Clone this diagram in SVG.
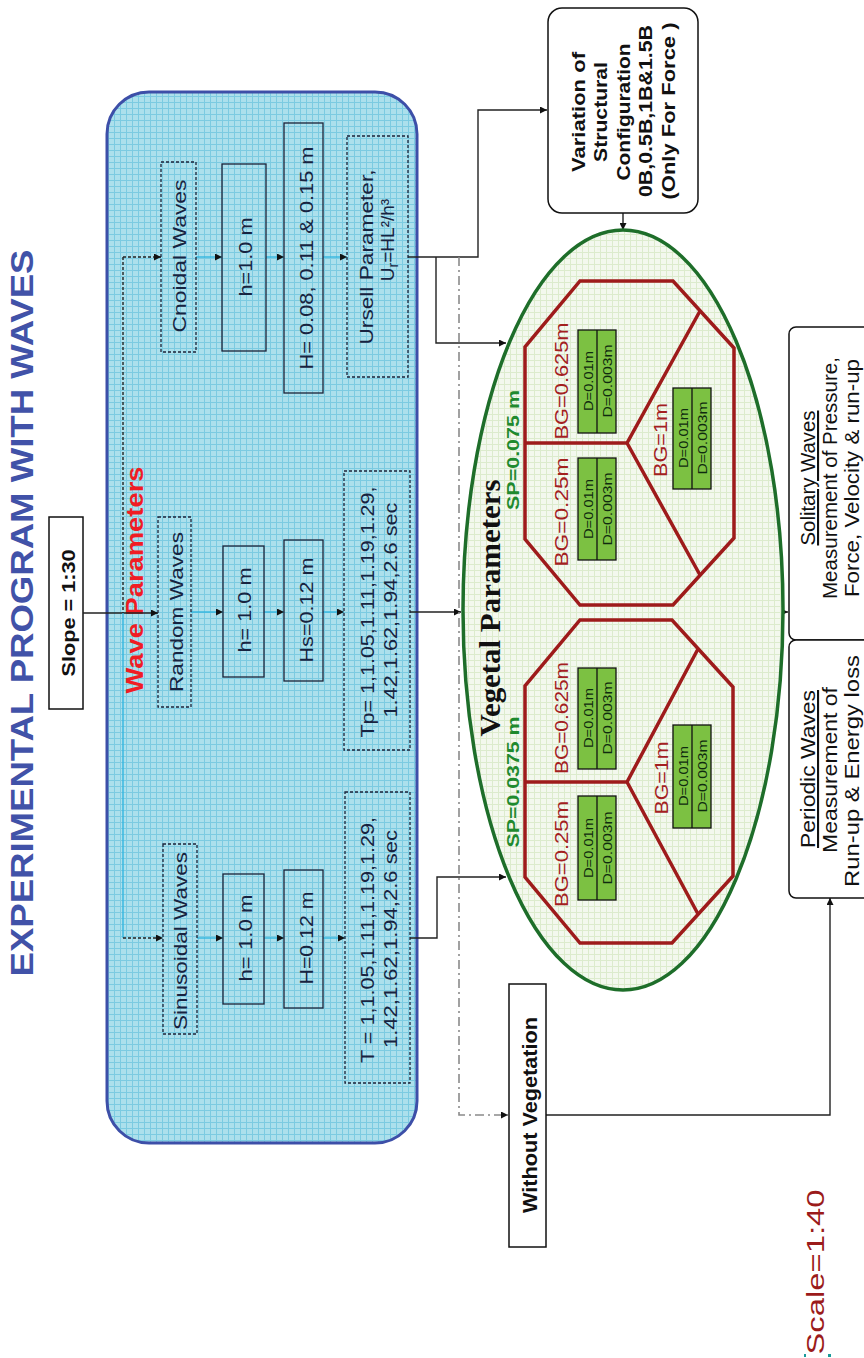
<svg xmlns="http://www.w3.org/2000/svg" width="864" height="1358" viewBox="0 0 864 1358">
  <defs>
    <pattern id="gridBlue" width="6" height="6" patternUnits="userSpaceOnUse">
      <rect width="6" height="6" fill="#ace0ec"/>
      <path d="M0 0.5H6M0.5 0V6" stroke="#7ccbe1" stroke-width="1"/>
    </pattern>
    <pattern id="gridGreen" width="6" height="6" patternUnits="userSpaceOnUse">
      <rect width="6" height="6" fill="#f3f8ee"/>
      <path d="M0 0.5H6M0.5 0V6" stroke="#dcebcd" stroke-width="1"/>
    </pattern>
    <marker id="arr" viewBox="0 0 10 10" refX="10" refY="5" markerWidth="8" markerHeight="7" markerUnits="userSpaceOnUse" orient="auto">
      <path d="M0,0 L10,5 L0,10 z" fill="#111"/>
    </marker>
  </defs>
  <style>
    text { font-family: "Liberation Sans", Arial, sans-serif; text-anchor: middle; }
    .serif { font-family: "Liberation Serif", "Times New Roman", serif; }
    .box { fill: none; stroke: #1b2238; stroke-width: 1.3; }
    .dash { stroke-dasharray: 3 2; }
    .bt { font-size: 19px; fill: #172340; }
    .bold { font-weight: bold; fill: #111; }
    .wire { fill: none; stroke: #222; stroke-width: 1.4; }
    .cyan { fill: none; stroke: #33b6e0; stroke-width: 1.4; }
    .oct { fill: none; stroke: #9e1b1b; stroke-width: 3.5; stroke-linejoin: miter; }
    .bg { font-size: 19px; fill: #a3201f; }
    .sp { font-size: 17px; font-weight: bold; fill: #1f8a2e; }
    .dbox { fill: #7cc142; stroke: #111; stroke-width: 1.3; }
    .dt { font-size: 13px; fill: #0f2a0f; }
    .out { fill: #fff; stroke: #111; stroke-width: 1.5; }
    .ot { font-size: 21px; fill: #111; }
  </style>

  <!-- title -->
  <text id="title" transform="translate(33,613) rotate(-90)" font-size="32" font-weight="bold" fill="#4152a8" textLength="727" lengthAdjust="spacingAndGlyphs">EXPERIMENTAL PROGRAM WITH WAVES</text>

  <!-- slope -->
  <g id="slope">
    <rect x="49" y="517" width="34" height="192" fill="#fff" stroke="#111" stroke-width="1.5"/>
    <text class="bold" transform="translate(75,613) rotate(-90)" font-size="18" textLength="127" lengthAdjust="spacingAndGlyphs">Slope = 1:30</text>
  </g>

  <!-- wave parameters panel -->
  <g id="wave-parameters">
    <rect x="107" y="92" width="310" height="1051" rx="42" fill="url(#gridBlue)" stroke="#3d4fa8" stroke-width="3"/>
    <text transform="translate(143,580) rotate(-90)" font-size="24" font-weight="bold" fill="#f01c24" textLength="227" lengthAdjust="spacingAndGlyphs">Wave Parameters</text>
  </g>

  <!-- connectors -->
  <g id="connectors">
    <line class="wire" x1="83" y1="613" x2="158" y2="613" marker-end="url(#arr)"/>
    <line class="wire dash" x1="123" y1="257" x2="123" y2="613"/>
    <line class="cyan" x1="123" y1="613" x2="123" y2="938"/>
    <line class="wire dash" x1="123" y1="257" x2="161" y2="257" marker-end="url(#arr)"/>
    <line class="wire dash" x1="123" y1="938" x2="163" y2="938" marker-end="url(#arr)"/>

    <line class="cyan" x1="196" y1="257" x2="222" y2="257" marker-end="url(#arr)"/>
    <line class="cyan" x1="266" y1="257" x2="284" y2="257" marker-end="url(#arr)"/>
    <line class="cyan" x1="323" y1="257" x2="347" y2="257" marker-end="url(#arr)"/>
    <line class="cyan" x1="191" y1="612" x2="223" y2="612" marker-end="url(#arr)"/>
    <line class="cyan" x1="264" y1="612" x2="284" y2="612" marker-end="url(#arr)"/>
    <line class="cyan" x1="323" y1="612" x2="344" y2="612" marker-end="url(#arr)"/>
    <line class="cyan" x1="197" y1="938" x2="223" y2="938" marker-end="url(#arr)"/>
    <line class="cyan" x1="264" y1="938" x2="284" y2="938" marker-end="url(#arr)"/>
    <line class="cyan" x1="323" y1="938" x2="345" y2="938" marker-end="url(#arr)"/>

    <polyline class="wire" points="408,257 478,257 478,110 547,110" marker-end="url(#arr)"/>
    <polyline class="wire" points="436,257 436,343 506,343" marker-end="url(#arr)"/>
    <line class="wire" x1="410" y1="612" x2="461" y2="612" stroke="#555" marker-end="url(#arr)"/>
    <polyline class="wire" points="410,938 437,938 437,877 506,877" marker-end="url(#arr)"/>
    <polyline points="459,257 459,1115 508,1115" fill="none" stroke="#8a8a8a" stroke-width="1.6" stroke-dasharray="9 4 2 4" marker-end="url(#arr)"/>
    <line class="wire" x1="623" y1="213" x2="623" y2="230" marker-end="url(#arr)"/>
    <polyline class="wire" points="546,1115 830,1115 830,898" stroke="#555" marker-end="url(#arr)"/>
    <line class="wire" x1="777" y1="612" x2="788" y2="612" marker-end="url(#arr)"/>
  </g>

  <!-- cnoidal column -->
  <g id="cnoidal">
    <rect class="box dash" x="161" y="162" width="35" height="190"/>
    <text class="bt" transform="translate(186,256) rotate(-90)" textLength="153" lengthAdjust="spacingAndGlyphs">Cnoidal Waves</text>
    <rect class="box" x="222" y="164" width="44" height="187"/>
    <text class="bt" transform="translate(252,257) rotate(-90)" textLength="79" lengthAdjust="spacingAndGlyphs">h=1.0 m</text>
    <rect class="box" x="284" y="123" width="39" height="270"/>
    <text class="bt" transform="translate(313,258) rotate(-90)" textLength="223" lengthAdjust="spacingAndGlyphs">H= 0.08, 0.11 &amp; 0.15 m</text>
    <rect class="box dash" x="347" y="136" width="61" height="241"/>
    <text class="bt" transform="translate(373,257) rotate(-90)" textLength="175" lengthAdjust="spacingAndGlyphs">Ursell Parameter,</text>
    <text class="bt" transform="translate(394,240) rotate(-90)" font-size="21">U<tspan font-size="14" dy="4">r</tspan><tspan dy="-4">=HL²/h³</tspan></text>
  </g>

  <!-- random column -->
  <g id="random">
    <rect class="box dash" x="158" y="517" width="33" height="190"/>
    <text class="bt" transform="translate(183,612) rotate(-90)" textLength="160" lengthAdjust="spacingAndGlyphs">Random Waves</text>
    <rect class="box" x="223" y="546" width="41" height="131"/>
    <text class="bt" transform="translate(251,610) rotate(-90)" textLength="85" lengthAdjust="spacingAndGlyphs">h= 1.0 m</text>
    <rect class="box" x="284" y="540" width="39" height="141"/>
    <text class="bt" transform="translate(313,610) rotate(-90)" textLength="105" lengthAdjust="spacingAndGlyphs">Hs=0.12 m</text>
    <rect class="box dash" x="344" y="471" width="66" height="279"/>
    <text class="bt" transform="translate(374,612) rotate(-90)" textLength="251" lengthAdjust="spacingAndGlyphs">Tp= 1,1.05,1.11,1.19,1.29,</text>
    <text class="bt" transform="translate(397,610) rotate(-90)" textLength="215" lengthAdjust="spacingAndGlyphs">1.42,1.62,1.94,2.6 sec</text>
  </g>

  <!-- sinusoidal column -->
  <g id="sinusoidal">
    <rect class="box dash" x="163" y="844" width="34" height="190"/>
    <text class="bt" transform="translate(187,941) rotate(-90)" textLength="178" lengthAdjust="spacingAndGlyphs">Sinusoidal Waves</text>
    <rect class="box" x="223" y="874" width="41" height="130"/>
    <text class="bt" transform="translate(252,938) rotate(-90)" textLength="87" lengthAdjust="spacingAndGlyphs">h= 1.0 m</text>
    <rect class="box" x="284" y="870" width="39" height="138"/>
    <text class="bt" transform="translate(313,938) rotate(-90)" textLength="93" lengthAdjust="spacingAndGlyphs">H=0.12 m</text>
    <rect class="box dash" x="345" y="792" width="65" height="291"/>
    <text class="bt" transform="translate(374,940) rotate(-90)" textLength="246" lengthAdjust="spacingAndGlyphs">T = 1,1.05,1.11,1.19,1.29,</text>
    <text class="bt" transform="translate(397,939) rotate(-90)" textLength="218" lengthAdjust="spacingAndGlyphs">1.42,1.62,1.94,2.6 sec</text>
  </g>

  <!-- structural configuration -->
  <g id="variation">
    <rect x="548" y="8" width="150" height="205" rx="14" fill="#fff" stroke="#111" stroke-width="1.5"/>
    <g class="bold" font-size="19">
      <text transform="translate(585,112) rotate(-90)" textLength="120" lengthAdjust="spacingAndGlyphs">Variation of</text>
      <text transform="translate(607,112) rotate(-90)" textLength="100" lengthAdjust="spacingAndGlyphs">Structural</text>
      <text transform="translate(630,112) rotate(-90)" textLength="137" lengthAdjust="spacingAndGlyphs">Configuration</text>
      <text transform="translate(652,111) rotate(-90)" textLength="172" lengthAdjust="spacingAndGlyphs">0B,0.5B,1B&amp;1.5B</text>
      <text transform="translate(675,111) rotate(-90)" textLength="177" lengthAdjust="spacingAndGlyphs">(Only For Force )</text>
    </g>
  </g>

  <!-- vegetal parameters -->
  <g id="vegetal-parameters">
    <ellipse cx="623" cy="610" rx="160" ry="380" fill="url(#gridGreen)" stroke="#1e6e2a" stroke-width="3.5"/>
    <text class="serif" transform="translate(500,608) rotate(-90)" font-size="29" font-weight="bold" fill="#111" textLength="257" lengthAdjust="spacingAndGlyphs">Vegetal Parameters</text>
    <text class="sp" transform="translate(519,782) rotate(-90)" textLength="131" lengthAdjust="spacingAndGlyphs">SP=0.0375 m</text>
    <text class="sp" transform="translate(519,450) rotate(-90)" textLength="120" lengthAdjust="spacingAndGlyphs">SP=0.075 m</text>
  </g>

  <!-- SP = 0.075 m layout -->
  <g id="layout-sp0075">
    <path class="oct" d="M580,281 L673,281 L734,348 L734,538 L673,605 L580,605 L525,539 L525,347 Z"/>
    <path class="oct" d="M525,443 L627,443 L700,311 M627,443 L700,575"/>
    <text class="bg" transform="translate(568,381) rotate(-90)" textLength="117" lengthAdjust="spacingAndGlyphs">BG=0.625m</text>
    <text class="bg" transform="translate(568,512) rotate(-90)" textLength="109" lengthAdjust="spacingAndGlyphs">BG=0.25m</text>
    <text class="bg" transform="translate(667,440) rotate(-90)" textLength="74" lengthAdjust="spacingAndGlyphs">BG=1m</text>
    <rect class="dbox" x="578" y="330" width="38" height="103"/>
    <line x1="597" y1="330" x2="597" y2="433" stroke="#111" stroke-width="1.3"/>
    <text class="dt" transform="translate(593,381) rotate(-90)" textLength="60" lengthAdjust="spacingAndGlyphs">D=0.01m</text>
    <text class="dt" transform="translate(612,381) rotate(-90)" textLength="73" lengthAdjust="spacingAndGlyphs">D=0.003m</text>
    <rect class="dbox" x="578" y="458" width="38" height="102"/>
    <line x1="597" y1="458" x2="597" y2="560" stroke="#111" stroke-width="1.3"/>
    <text class="dt" transform="translate(593,509) rotate(-90)" textLength="60" lengthAdjust="spacingAndGlyphs">D=0.01m</text>
    <text class="dt" transform="translate(612,509) rotate(-90)" textLength="73" lengthAdjust="spacingAndGlyphs">D=0.003m</text>
    <rect class="dbox" x="673" y="388" width="38" height="101"/>
    <line x1="692" y1="388" x2="692" y2="489" stroke="#111" stroke-width="1.3"/>
    <text class="dt" transform="translate(688,438) rotate(-90)" textLength="60" lengthAdjust="spacingAndGlyphs">D=0.01m</text>
    <text class="dt" transform="translate(707,438) rotate(-90)" textLength="73" lengthAdjust="spacingAndGlyphs">D=0.003m</text>
  </g>

  <!-- SP = 0.0375 m layout -->
  <g id="layout-sp00375">
    <path class="oct" d="M580,620 L672,620 L733,687 L733,876 L672,943 L580,943 L525,877 L525,686 Z"/>
    <path class="oct" d="M525,782 L627,782 L698,649 M627,782 L698,914"/>
    <text class="bg" transform="translate(568,718) rotate(-90)" textLength="112" lengthAdjust="spacingAndGlyphs">BG=0.625m</text>
    <text class="bg" transform="translate(568,854) rotate(-90)" textLength="106" lengthAdjust="spacingAndGlyphs">BG=0.25m</text>
    <text class="bg" transform="translate(668,778) rotate(-90)" textLength="73" lengthAdjust="spacingAndGlyphs">BG=1m</text>
    <rect class="dbox" x="578" y="668" width="38" height="101"/>
    <line x1="597" y1="668" x2="597" y2="769" stroke="#111" stroke-width="1.3"/>
    <text class="dt" transform="translate(593,718) rotate(-90)" textLength="60" lengthAdjust="spacingAndGlyphs">D=0.01m</text>
    <text class="dt" transform="translate(612,718) rotate(-90)" textLength="73" lengthAdjust="spacingAndGlyphs">D=0.003m</text>
    <rect class="dbox" x="578" y="796" width="38" height="104"/>
    <line x1="597" y1="796" x2="597" y2="900" stroke="#111" stroke-width="1.3"/>
    <text class="dt" transform="translate(593,848) rotate(-90)" textLength="60" lengthAdjust="spacingAndGlyphs">D=0.01m</text>
    <text class="dt" transform="translate(612,848) rotate(-90)" textLength="73" lengthAdjust="spacingAndGlyphs">D=0.003m</text>
    <rect class="dbox" x="673" y="725" width="38" height="103"/>
    <line x1="692" y1="725" x2="692" y2="828" stroke="#111" stroke-width="1.3"/>
    <text class="dt" transform="translate(688,776) rotate(-90)" textLength="60" lengthAdjust="spacingAndGlyphs">D=0.01m</text>
    <text class="dt" transform="translate(707,776) rotate(-90)" textLength="73" lengthAdjust="spacingAndGlyphs">D=0.003m</text>
  </g>

  <!-- without vegetation -->
  <g id="without-vegetation">
    <rect x="509" y="984" width="37" height="263" fill="#fff" stroke="#111" stroke-width="1.5"/>
    <text class="bold" transform="translate(537,1115) rotate(-90)" font-size="20" textLength="196" lengthAdjust="spacingAndGlyphs">Without Vegetation</text>
  </g>

  <!-- measurements -->
  <g id="solitary">
    <rect class="out" x="789" y="327" width="100" height="313" rx="7"/>
    <text class="ot" transform="translate(815,478) rotate(-90)" text-decoration="underline" textLength="135" lengthAdjust="spacingAndGlyphs">Solitary Waves</text>
    <text class="ot" transform="translate(837,478) rotate(-90)" textLength="242" lengthAdjust="spacingAndGlyphs">Measurement of Pressure,</text>
    <text class="ot" transform="translate(859,478) rotate(-90)" textLength="238" lengthAdjust="spacingAndGlyphs">Force, Velocity &amp; run-up</text>
  </g>
  <g id="periodic">
    <rect class="out" x="789" y="640" width="100" height="258" rx="7"/>
    <text class="ot" transform="translate(815,769) rotate(-90)" text-decoration="underline" textLength="158" lengthAdjust="spacingAndGlyphs">Periodic Waves</text>
    <text class="ot" transform="translate(837,770) rotate(-90)" textLength="166" lengthAdjust="spacingAndGlyphs">Measurement of</text>
    <text class="ot" transform="translate(859,771) rotate(-90)" textLength="232" lengthAdjust="spacingAndGlyphs">Run-up &amp; Energy loss</text>
  </g>

  <!-- scale note -->
  <g id="scale">
    <text transform="translate(824,1272) rotate(-90)" font-size="23" fill="#9b1b1b" textLength="165" lengthAdjust="spacingAndGlyphs">Scale=1:40</text>
    <rect x="804" y="1354" width="2" height="3" fill="#1a9a9a"/>
    <rect x="828" y="1354" width="3" height="3" fill="#1a9a9a"/>
  </g>
</svg>
